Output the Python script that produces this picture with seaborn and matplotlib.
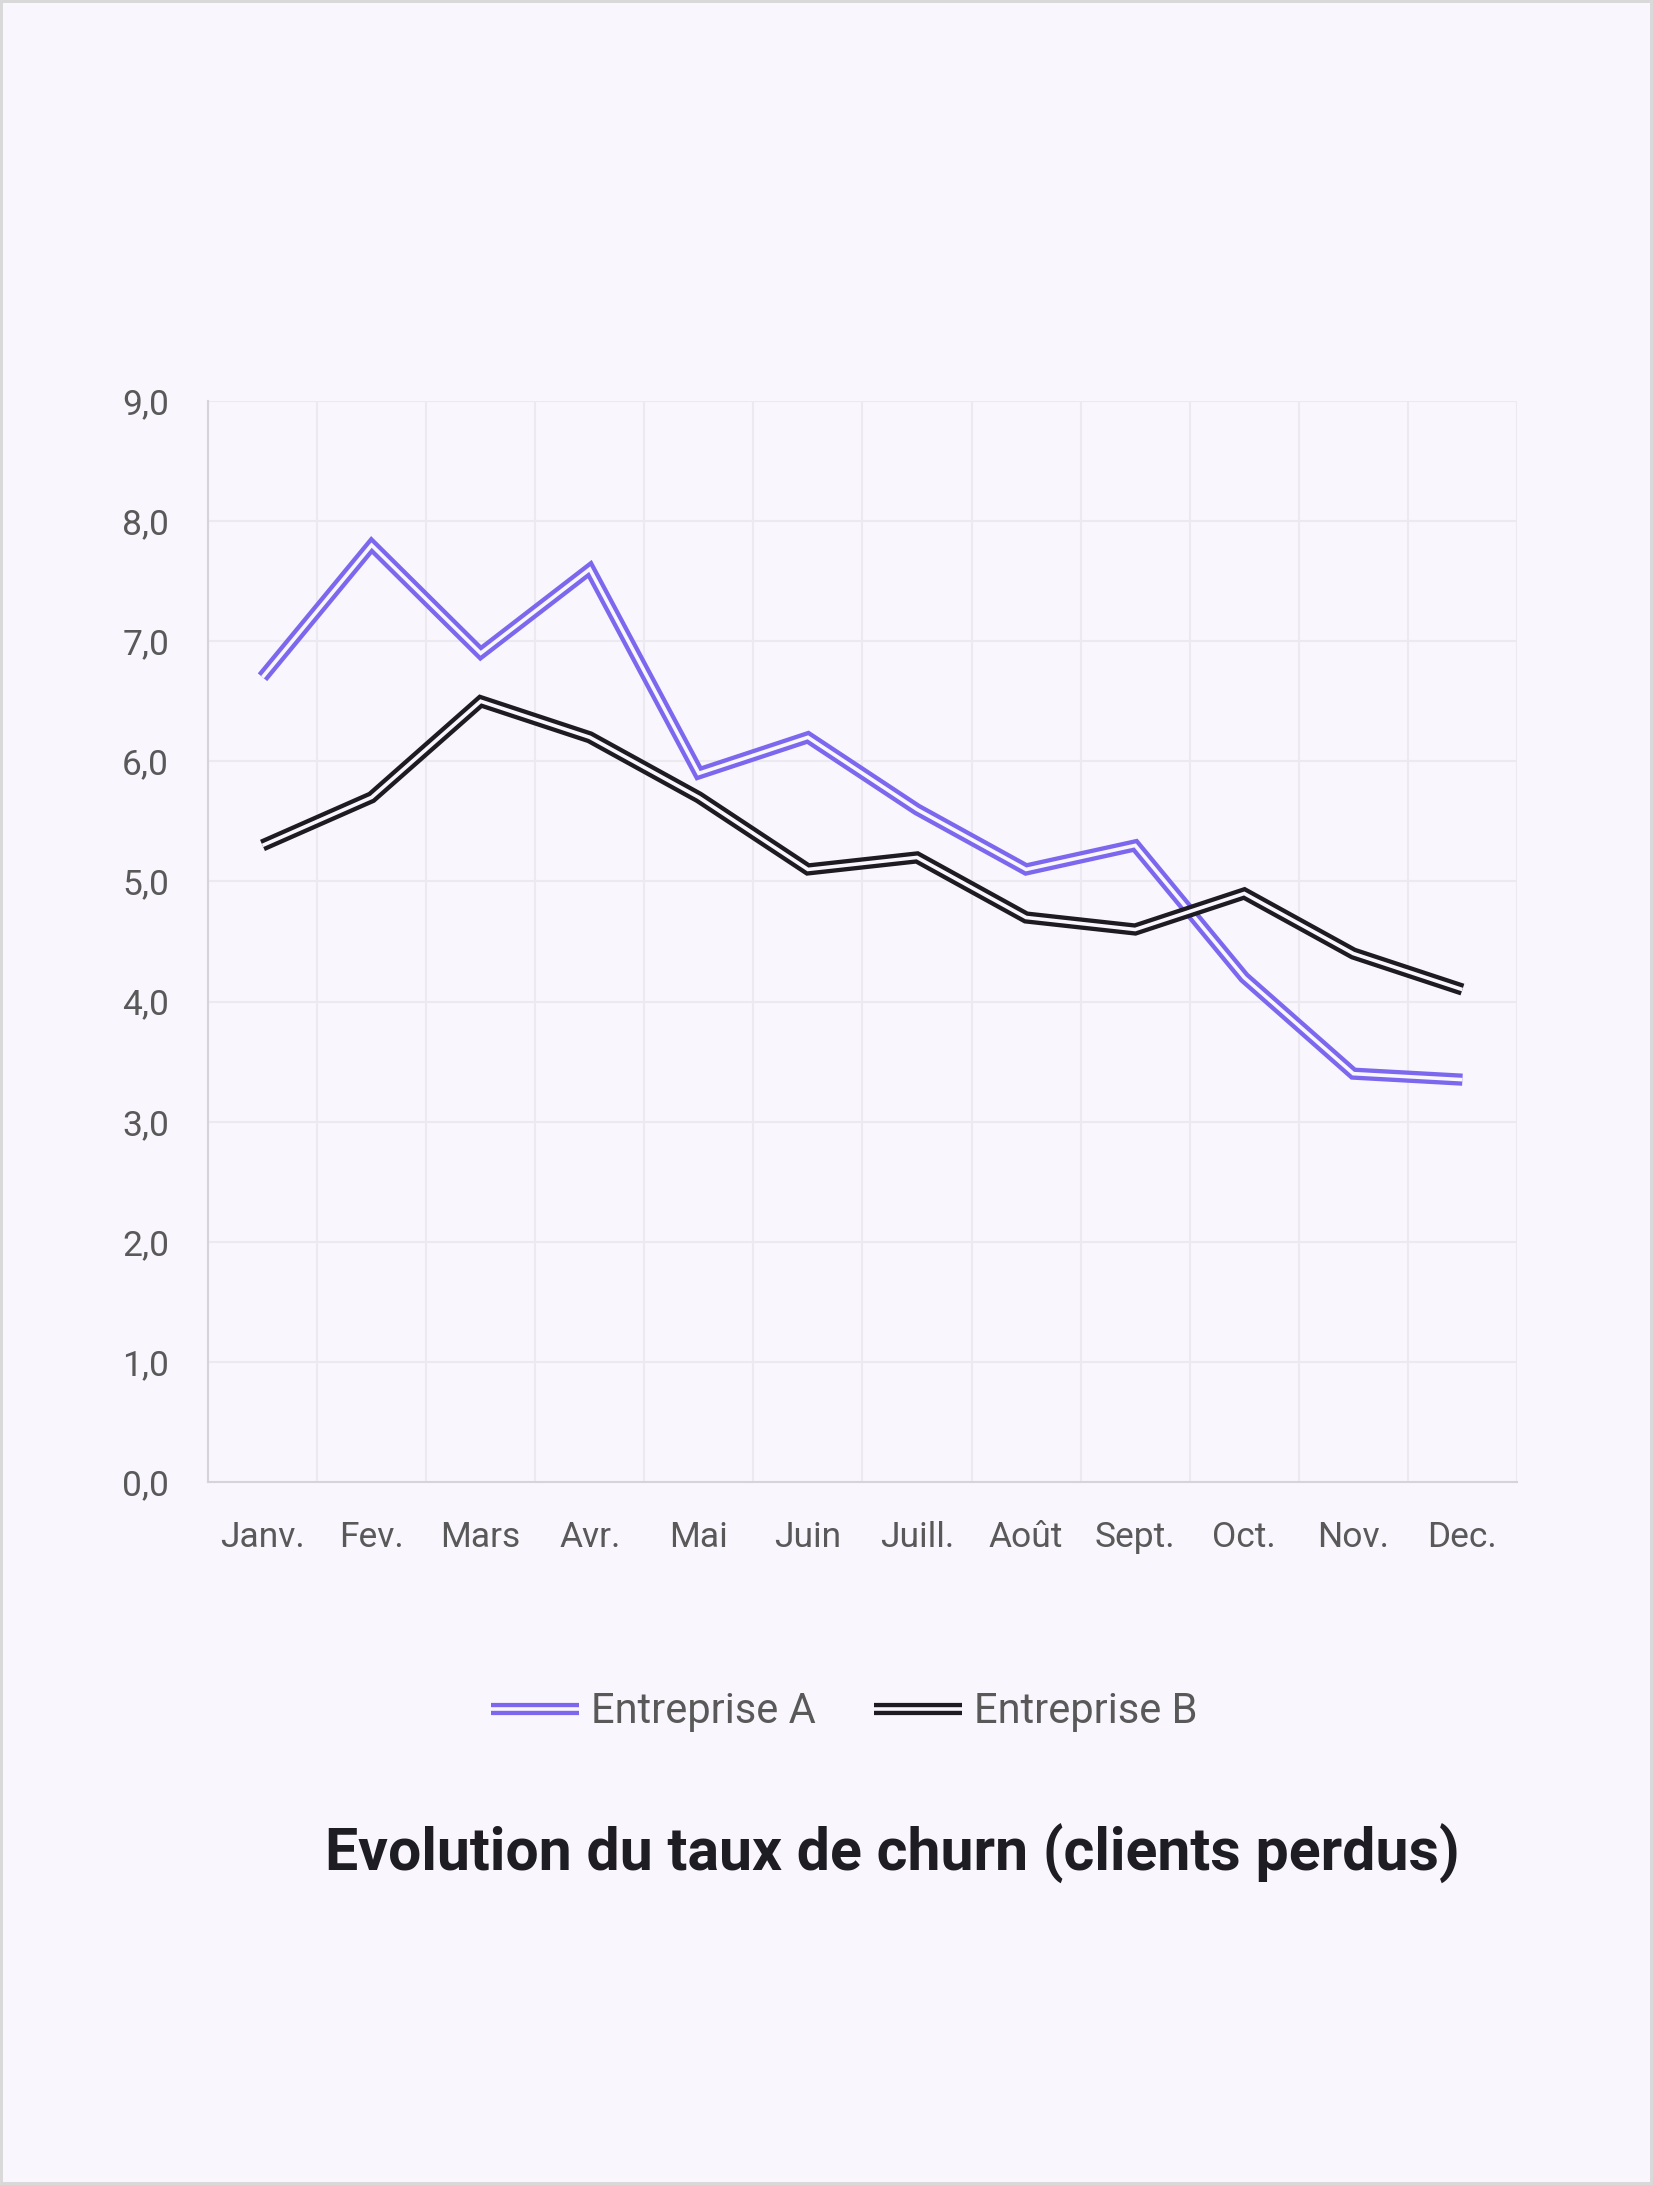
import numpy as np
import pandas as pd
import seaborn as sns
import matplotlib.pyplot as plt
import matplotlib.patheffects as pe
from matplotlib.ticker import FixedLocator, FuncFormatter

mois = ["Janv.", "Fev.", "Mars", "Avr.", "Mai", "Juin", "Juill.", "Août", "Sept.", "Oct.", "Nov.", "Dec."]
entreprise_a = [6.7, 7.8, 6.9, 7.6, 5.9, 6.2, 5.6, 5.1, 5.3, 4.2, 3.4, 3.35]
entreprise_b = [5.3, 5.7, 6.5, 6.2, 5.7, 5.1, 5.2, 4.7, 4.6, 4.9, 4.4, 4.1]
series = ["Entreprise A", "Entreprise B"]
couleurs = ["#7B68EE", "#1E1C22"]
titre = "Evolution du taux de churn (clients perdus)"

bg = "#FAF6FD"
gris = "#595959"

df = pd.DataFrame({
    "Mois": mois * 2,
    "Taux": entreprise_a + entreprise_b,
    "Entreprise": [series[0]] * 12 + [series[1]] * 12,
})

sns.set_theme(style="white")
plt.rcParams['font.family'] = ['Roboto', 'DejaVu Sans']

fig = plt.figure(figsize=(16.53, 21.85), dpi=100, facecolor=bg, edgecolor="#D9D9D9", linewidth=3)
ax = fig.add_axes([0.1258, 0.3217, 0.7919, 0.4948])
ax.set_facecolor(bg)

sns.lineplot(data=df, x="Mois", y="Taux", hue="Entreprise", palette=couleurs,
             legend=False, ax=ax, sort=False)

# double trait : trait large en couleur + trait fin couleur du fond
for line, c in zip(ax.lines, couleurs):
    line.set_color(bg)
    line.set_linewidth(2.6)
    line.set_solid_joinstyle("miter")
    line.set_solid_capstyle("butt")
    line.set_path_effects([pe.Stroke(linewidth=8.8, foreground=c, joinstyle="miter", capstyle="butt"),
                           pe.Normal()])

ax.set_xlim(-0.5, 11.5)
ax.set_ylim(0, 9)
ax.set_yticks(np.arange(0, 10, 1))
ax.yaxis.set_major_formatter(FuncFormatter(lambda v, p: f"{v:.1f}".replace(".", ",")))
ax.set_xticks(range(12))
ax.set_xticklabels(mois)
ax.xaxis.set_minor_locator(FixedLocator(np.arange(-0.5, 12, 1)))
ax.grid(True, axis="y", which="major", color="#ECE9F0", linewidth=1.5)
ax.grid(True, axis="x", which="minor", color="#ECE9F0", linewidth=1.5)
ax.set_axisbelow(True)
ax.tick_params(axis="both", which="both", length=0, labelsize=25.5, labelcolor=gris)
ax.tick_params(axis="x", pad=28)
ax.tick_params(axis="y", pad=28)
ax.set_xlabel("")
ax.set_ylabel("")
for s in ["top", "right"]:
    ax.spines[s].set_visible(False)
for s in ["left", "bottom"]:
    ax.spines[s].set_color("#D6D3DA")
    ax.spines[s].set_linewidth(1.5)

leg = ax.legend(ax.lines, series, loc="center", bbox_to_anchor=(0.511, 0.2165),
                bbox_transform=fig.transFigure, ncol=2, frameon=False, fontsize=30,
                handlelength=2.1, handletextpad=0.3, columnspacing=1.4)
for t in leg.get_texts():
    t.set_color(gris)

fig.text(0.54, 0.1515, titre, ha="center", va="center", fontsize=42.5,
         fontweight="bold", color="#1F1D24")

fig.savefig("out.png", dpi=100, facecolor=bg)
